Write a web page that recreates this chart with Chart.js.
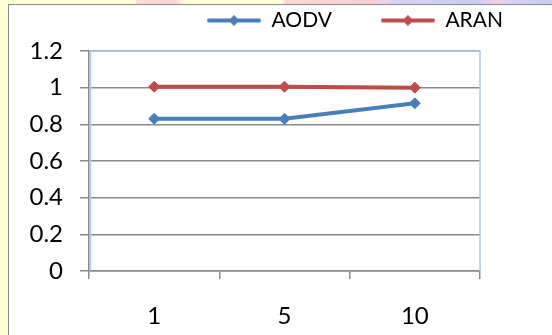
<!DOCTYPE html>
<html>
<head>
<meta charset="utf-8">
<script src="https://cdn.jsdelivr.net/npm/chart.js@4"></script>
<style>
  html, body { margin: 0; padding: 0; }
  body {
    width: 552px; height: 335px; overflow: hidden; position: relative;
    background: #ffffd6;
  }
  #strip {
    position: absolute; left: 0; top: 0; width: 552px; height: 5px;
    background: linear-gradient(to right,
      #ffffd6 0px, #ffffd6 135px, #fdd9d6 137px, #fdd2d6 175px, #ffffd6 184px,
      #ffffd6 282px, #fdd6d4 286px, #fdcbd3 370px, #ecd0ea 385px, #d4d0f6 395px,
      #ccccf8 480px, #f6cbe6 495px, #d4d0f6 512px, #ccccf8 552px);
  }
  #box {
    position: absolute; left: 8px; top: 4px; width: 600px; height: 400px;
    background: #fff; border: 1px solid #8a8a8a; box-sizing: border-box;
  }
  #wrap { position: absolute; left: 0; top: 0; width: 552px; height: 335px; }
</style>
</head>
<body>
<div id="strip"></div>
<div id="box"></div>
<div id="wrap"><canvas id="chart"></canvas></div>
<script>
const categories = ['1', '5', '10'];
const aodvValues = [0.83, 0.83, 0.915];
const aranValues = [1.005, 1.005, 1.0];
const yTickLabels = ['0', '0.2', '0.4', '0.6', '0.8', '1', '1.2'];

const BLUE = '#4a7ebb';
const RED = '#be4b48';
const GRID = '#898989';

// legend marker: a short line with a diamond in the middle
function legendMarker(color) {
    const c = document.createElement('canvas');
    c.width = 93;
    c.height = 14;
    const g = c.getContext('2d');
    g.strokeStyle = color;
    g.lineWidth = 4;
    g.lineCap = 'round';
    g.beginPath();
    g.moveTo(41, 7);
    g.lineTo(91, 7);
    g.stroke();
    g.fillStyle = color;
    g.beginPath();
    g.moveTo(66, 1.5);
    g.lineTo(71.5, 7);
    g.lineTo(66, 12.5);
    g.lineTo(60.5, 7);
    g.closePath();
    g.fill();
    return c;
}

const plotBorder = {
    id: 'plotBorder',
    beforeDatasetsDraw(chart) {
        const a = chart.chartArea;
        const ctx = chart.ctx;
        ctx.save();
        ctx.strokeStyle = '#b3c8e6';
        ctx.lineWidth = 1.5;
        ctx.beginPath();
        ctx.moveTo(a.left + 1.5, a.bottom);
        ctx.lineTo(a.left + 1.5, a.top);
        ctx.lineTo(a.right, a.top);
        ctx.lineTo(a.right, a.bottom);
        ctx.stroke();
        ctx.restore();
    }
};

Chart.defaults.font.family = 'Lato';
Chart.defaults.color = '#000';

new Chart(document.getElementById('chart'), {
    type: 'line',
    data: {
        labels: categories,
        datasets: [{
            label: 'AODV',
            data: aodvValues,
            borderColor: BLUE,
            backgroundColor: BLUE,
            borderWidth: 4,
            pointStyle: 'rectRot',
            pointRadius: 5.5,
            pointBorderWidth: 1,
            tension: 0,
            yAxisID: 'y',
            xAxisID: 'x'
        }, {
            label: 'ARAN',
            data: aranValues,
            borderColor: RED,
            backgroundColor: RED,
            borderWidth: 4,
            pointStyle: 'rectRot',
            pointRadius: 5.5,
            pointBorderWidth: 1,
            tension: 0,
            yAxisID: 'y',
            xAxisID: 'x'
        }]
    },
    options: {
        responsive: true,
        maintainAspectRatio: false,
        animation: false,
        layout: { padding: { top: 0, right: 39, left: 0, bottom: 0 } },
        plugins: {
            tooltip: { enabled: false },
            legend: {
                display: true,
                position: 'top',
                align: 'end',
                labels: {
                    usePointStyle: true,
                    pointStyleWidth: 93,
                    padding: 10,
                    font: { size: 21 },
                    generateLabels(chart) {
                        return chart.data.datasets.map((ds, i) => ({
                            text: ds.label,
                            fillStyle: ds.borderColor,
                            strokeStyle: ds.borderColor,
                            lineWidth: 0,
                            pointStyle: legendMarker(ds.borderColor),
                            hidden: false,
                            datasetIndex: i
                        }));
                    }
                }
            }
        },
        scales: {
            x: {
                type: 'category',
                position: 'bottom',
                offset: true,
                afterFit(s) { s.height = 64; },
                grid: {
                    offset: true,
                    drawOnChartArea: false,
                    drawTicks: true,
                    tickLength: 8,
                    color: GRID,
                    lineWidth: 1.5
                },
                border: { display: true, color: GRID, width: 1.5 },
                ticks: { font: { size: 24 }, padding: 23 }
            },
            xTop: {
                type: 'category',
                position: 'top',
                afterFit(s) { s.height = 10; },
                grid: { display: false },
                border: { display: false },
                ticks: { display: false }
            },
            y: {
                type: 'linear',
                position: 'left',
                min: 0,
                max: 1.2,
                afterFit(s) { s.width = 89; },
                afterBuildTicks(s) {
                    s.ticks = yTickLabels.map(t => ({ value: parseFloat(t) }));
                },
                grid: {
                    color: GRID,
                    lineWidth: 1.5,
                    tickLength: 9
                },
                border: { display: true, color: GRID, width: 1.5 },
                ticks: {
                    font: { size: 24 },
                    padding: 17,
                    callback: (v, i) => yTickLabels[i]
                }
            },
            yRight: {
                type: 'linear',
                position: 'right',
                afterFit(s) { s.width = 33; },
                grid: { display: false },
                border: { display: false },
                ticks: { display: false }
            }
        }
    },
    plugins: [plotBorder]
});
</script>
</body>
</html>
